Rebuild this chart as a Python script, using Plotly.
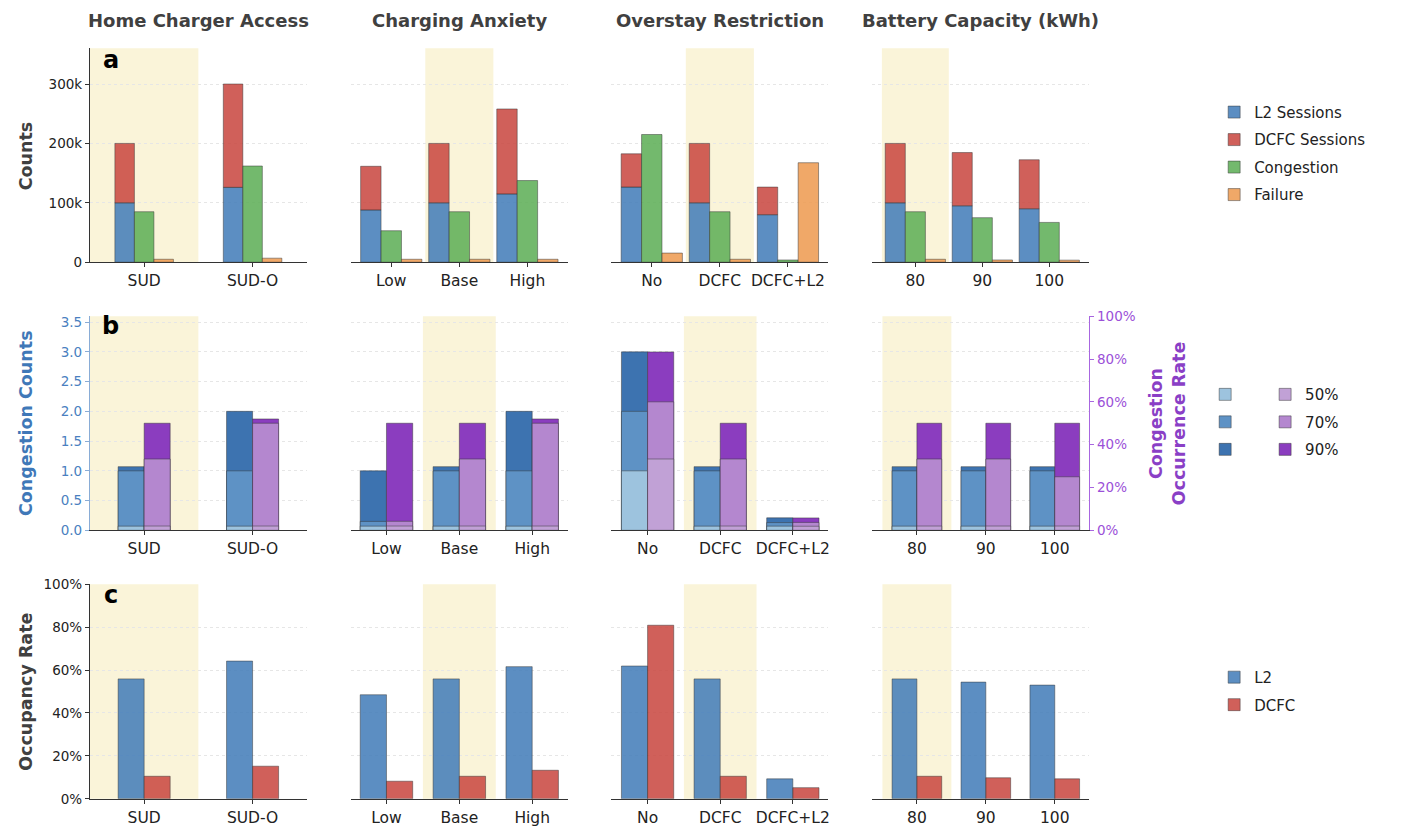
import plotly.graph_objects as go

W, H = 1422, 840
PAGE_OFF = 8  # the page body margin shifts the figure by 8px

groups = ["Home Charger Access", "Charging Anxiety", "Overstay Restriction", "Battery Capacity (kWh)"]
categories = [["SUD", "SUD-O"], ["Low", "Base", "High"], ["No", "DCFC", "DCFC+L2"], ["80", "90", "100"]]
baseline = ["SUD", "Base", "DCFC", "80"]

# panel a - counts
l2_sessions = [[100000, 126000], [88000, 100000, 115000], [126500, 100000, 80000], [100000, 95000, 90000]]
dcfc_sessions = [[100000, 174000], [73500, 100000, 143000], [56000, 100000, 46500], [100000, 89600, 82500]]
congestion = [[85000, 162000], [53000, 85000, 137500], [215000, 85000, 3800], [85000, 75000, 67000]]
failure = [[5000, 6800], [5000, 5000, 5000], [15400, 5000, 167500], [5000, 3800, 3500]]

# panel b - congestion counts (L2) and occurrence rate (%) per threshold
cong_count_50 = [[0.07, 0.07], [0.07, 0.07, 0.07], [1.0, 0.07, 0.07], [0.07, 0.07, 0.07]]
cong_count_70 = [[1.0, 1.0], [0.15, 1.0, 1.0], [2.0, 1.0, 0.13], [1.0, 1.0, 1.0]]
cong_count_90 = [[1.07, 2.0], [1.0, 1.07, 2.0], [3.0, 1.07, 0.21], [1.07, 1.07, 1.07]]
cong_rate_50 = [[2.0, 2.0], [2.0, 2.0, 2.0], [33.3, 2.0, 1.9], [2.0, 2.0, 2.0]]
cong_rate_70 = [[33.3, 50.0], [4.2, 33.3, 50.0], [60.0, 33.3, 3.7], [33.3, 33.3, 25.0]]
cong_rate_90 = [[50.0, 52.0], [50.0, 50.0, 52.0], [83.3, 50.0, 5.8], [50.0, 50.0, 50.0]]

# panel c - occupancy rate (%)
occ_l2 = [[55.9, 64.2], [48.5, 55.9, 61.6], [61.9, 55.9, 9.3], [55.9, 54.4, 53.0]]
occ_dcfc = [[10.5, 15.2], [8.2, 10.5, 13.3], [80.9, 10.5, 5.2], [10.5, 9.8, 9.3]]

BLUE = "rgba(63,122,183,0.85)"
RED = "rgba(200,68,61,0.85)"
GREEN = "rgba(90,173,84,0.85)"
ORANGE = "rgba(237,153,77,0.85)"
BLUES = ["#9DC3DE", "#5E92C5", "#3D73B0"]
PURPLES = ["#C1A1D6", "#B487CF", "#8B3DBF"]
BAND = "#FAF4D9"
EDGE = dict(color="rgba(50,50,50,0.6)", width=0.8)
GREY = "#404040"
FONT = "DejaVu Sans"

# layout in screen pixels
col_x = [(90, 307), (351, 568.3), (611.7, 829), (872.7, 1090)]
row_y = [(41, 259), (314, 532.3), (587.3, 806)]
range_a = [[-0.5, 1.5], [-0.595, 2.595], [-0.595, 2.595], [-0.646, 2.597]]
range_bc = [[-0.5, 1.5], [-0.49, 2.49], [-0.5, 2.49], [-0.65, 2.5]]
bar_w_a = [0.18, 0.3, 0.3, 0.3]
bar_w_bc = [0.24, 0.36, 0.36, 0.36]


def px_x(x):
    return (x - PAGE_OFF) / W


def px_y(y):
    return 1 - (y - PAGE_OFF) / H


def ref(k):
    return "" if k == 1 else str(k)


fig = go.Figure()

for c in range(4):
    cats = categories[c]
    first = c == 0

    # row a
    k = c + 1
    xa, ya = "x" + ref(k), "y" + ref(k)
    w = bar_w_a[c]
    fig.add_trace(go.Bar(x=cats, y=l2_sessions[c], offset=-1.5 * w, width=w,
                         marker=dict(color=BLUE, line=EDGE), name="L2 Sessions",
                         legend="legend", legendgroup="a1", showlegend=first, xaxis=xa, yaxis=ya))
    fig.add_trace(go.Bar(x=cats, y=dcfc_sessions[c], base=l2_sessions[c], offset=-1.5 * w, width=w,
                         marker=dict(color=RED, line=EDGE), name="DCFC Sessions",
                         legend="legend", legendgroup="a2", showlegend=first, xaxis=xa, yaxis=ya))
    fig.add_trace(go.Bar(x=cats, y=congestion[c], offset=-0.5 * w, width=w,
                         marker=dict(color=GREEN, line=EDGE), name="Congestion",
                         legend="legend", legendgroup="a3", showlegend=first, xaxis=xa, yaxis=ya))
    fig.add_trace(go.Bar(x=cats, y=failure[c], offset=0.5 * w, width=w,
                         marker=dict(color=ORANGE, line=EDGE), name="Failure",
                         legend="legend", legendgroup="a4", showlegend=first, xaxis=xa, yaxis=ya))

    # row b (largest threshold drawn first, behind)
    k = c + 5
    xb, yb = "x" + ref(k), "y" + ref(k)
    yr = "y" + str(13 + c)
    w = bar_w_bc[c]
    counts = [cong_count_50[c], cong_count_70[c], cong_count_90[c]]
    rates = [cong_rate_50[c], cong_rate_70[c], cong_rate_90[c]]
    labels = ["50%", "70%", "90%"]
    for j in [2, 1, 0]:
        fig.add_trace(go.Bar(x=cats, y=counts[j], offset=-w, width=w,
                             marker=dict(color=BLUES[j], line=EDGE), name=" ",
                             legend="legend2", legendgroup="bb" + str(j), legendrank=j + 1,
                             showlegend=first, xaxis=xb, yaxis=yb))
    for j in [2, 1, 0]:
        fig.add_trace(go.Bar(x=cats, y=rates[j], offset=0, width=w,
                             marker=dict(color=PURPLES[j], line=EDGE), name=labels[j],
                             legend="legend3", legendgroup="bp" + str(j), legendrank=j + 1,
                             showlegend=first, xaxis=xb, yaxis=yr))

    # row c
    k = c + 9
    xc, yc = "x" + ref(k), "y" + ref(k)
    fig.add_trace(go.Bar(x=cats, y=occ_l2[c], offset=-w, width=w,
                         marker=dict(color=BLUE, line=EDGE), name="L2",
                         legend="legend4", legendgroup="c1", showlegend=first, xaxis=xc, yaxis=yc))
    fig.add_trace(go.Bar(x=cats, y=occ_dcfc[c], offset=0, width=w,
                         marker=dict(color=RED, line=EDGE), name="DCFC",
                         legend="legend4", legendgroup="c2", showlegend=first, xaxis=xc, yaxis=yc))

layout = dict(
    width=W, height=H, margin=dict(l=0, r=0, t=0, b=0),
    plot_bgcolor="white", paper_bgcolor="white",
    font=dict(family=FONT, color="#222"),
    barmode="overlay",
)

shapes = []
annotations = []
for r in range(3):
    for c in range(4):
        k = r * 4 + c + 1
        x0, x1 = col_x[c]
        y0, y1 = row_y[r]
        xaxis = dict(
            domain=[px_x(x0), px_x(x1)], anchor="y" + ref(k),
            range=range_a[c] if r == 0 else range_bc[c],
            showline=True, linecolor="#333", linewidth=1.2,
            ticks="outside", ticklen=4, tickcolor="#333",
            tickfont=dict(size=15.5, color="#222"), showgrid=False, zeroline=False,
        )
        yaxis = dict(
            domain=[px_y(y1), px_y(y0)], anchor="x" + ref(k),
            showgrid=True, gridcolor="#e6e6e6", griddash="dot", gridwidth=1, zeroline=False,
            tickfont=dict(size=13.5, color="#222"),
        )
        if r == 0:
            yaxis.update(range=[0, 360000], dtick=100000, tickformat="~s")
        elif r == 1:
            yaxis.update(range=[0, 3.6], dtick=0.5, tickformat=".1f")
        else:
            yaxis.update(range=[0, 100], dtick=20, ticksuffix="%")
        if c == 0:
            lc = "#89ACD6" if r == 1 else "#333"
            yaxis.update(showline=True, linecolor=lc, linewidth=1.2, ticks="outside",
                         ticklen=4, tickcolor=lc)
            if r == 1:
                yaxis["tickfont"] = dict(size=13.5, color="#4A7FC0")
        else:
            yaxis.update(showline=False, showticklabels=False, ticks="")
        layout["xaxis" + ref(k)] = xaxis
        layout["yaxis" + ref(k)] = yaxis

        i = categories[c].index(baseline[c])
        shapes.append(dict(type="rect", xref="x" + ref(k), yref="y" + ref(k) + " domain",
                           x0=i - 0.5, x1=i + 0.5, y0=0, y1=1,
                           fillcolor=BAND, line=dict(width=0), layer="below"))

# secondary axes for occurrence rate (row b)
for c in range(4):
    k = c + 5
    ax = dict(overlaying="y" + str(k), anchor="x" + str(k), range=[0, 100],
              showgrid=False, zeroline=False)
    if c == 3:
        ax.update(side="right", showline=True, linecolor="#A866E0", linewidth=1.2,
                  ticks="outside", ticklen=4, tickcolor="#A866E0", dtick=20, ticksuffix="%",
                  tickfont=dict(size=13.5, color="#9B50D8"))
    else:
        ax.update(visible=False)
    layout["yaxis" + str(13 + c)] = ax

# column titles
for c in range(4):
    x0, x1 = col_x[c]
    annotations.append(dict(text="<b>" + groups[c] + "</b>", xref="paper", yref="paper",
                            x=px_x((x0 + x1) / 2), y=px_y(13), showarrow=False,
                            font=dict(size=18, color=GREY), xanchor="center", yanchor="middle"))

# panel letters
for letter, ypx in zip(["a", "b", "c"], [53, 324, 598]):
    annotations.append(dict(text="<b>" + letter + "</b>", xref="paper", yref="paper",
                            x=px_x(111), y=px_y(ypx), showarrow=False,
                            font=dict(size=24, color="black"), xanchor="center", yanchor="middle"))

# y-axis titles
for text, ypx, color in [("Counts", 150, GREY), ("Congestion Counts", 423, "#3F78B8"),
                         ("Occupancy Rate", 697, GREY)]:
    annotations.append(dict(text="<b>" + text + "</b>", xref="paper", yref="paper",
                            x=px_x(26), y=px_y(ypx), textangle=-90, showarrow=False,
                            font=dict(size=17.5, color=color), xanchor="center", yanchor="middle"))
annotations.append(dict(text="<b>Congestion<br>Occurrence Rate</b>", xref="paper", yref="paper",
                        x=px_x(1168), y=px_y(423), textangle=-90, showarrow=False,
                        font=dict(size=17.5, color="#8A3FC6"), xanchor="center", yanchor="middle"))

legend_style = dict(bgcolor="rgba(0,0,0,0)", font=dict(size=15, color="#222"),
                    tracegroupgap=5, traceorder="grouped", xanchor="left", yanchor="middle")
layout["legend"] = dict(x=px_x(1215), y=px_y(148), **legend_style)
layout["legend2"] = dict(x=px_x(1206), y=px_y(422), **legend_style)
layout["legend3"] = dict(x=px_x(1266), y=px_y(422), **legend_style)
layout["legend4"] = dict(x=px_x(1215), y=px_y(696), **legend_style)

layout["shapes"] = shapes
layout["annotations"] = annotations
fig.update_layout(**layout)

fig.write_html("out.html")
